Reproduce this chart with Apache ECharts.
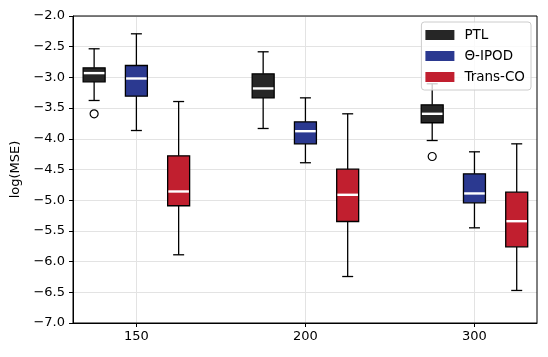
<!DOCTYPE html>
<html>
<head>
<meta charset="utf-8">
<script src="https://cdn.jsdelivr.net/npm/echarts@6/dist/echarts.min.js"></script>
<style>html,body{margin:0;padding:0;background:#fff}#c{width:548px;height:357px}</style>
</head>
<body>
<div id="c"></div>
<script>
// Group labels (x axis)
const categories = ['150', '200', '300'];
// Series names
const seriesNames = ['PTL', 'Θ-IPOD', 'Trans-CO'];
// Box stats per group: [min whisker, Q1, median, Q3, max whisker]
const ptlStats = [
  [-3.376, -3.072, -2.930, -2.844, -2.534],
  [-3.832, -3.333, -3.180, -2.942, -2.583],
  [-4.028, -3.739, -3.593, -3.446, -3.104]
];
const ipodStats = [
  [-3.865, -3.306, -3.018, -2.806, -2.290],
  [-4.390, -4.082, -3.876, -3.724, -3.333],
  [-5.450, -5.042, -4.890, -4.570, -4.212]
];
const transStats = [
  [-5.889, -5.090, -4.858, -4.277, -3.393],
  [-6.243, -5.347, -4.912, -4.495, -3.593],
  [-6.470, -5.759, -5.342, -4.870, -4.082]
];
// Outliers: [group index, value]
const ptlOutliers = [[0, -3.593], [2, -4.288]];
const ipodOutliers = [];
const transOutliers = [];
// Y tick values
const yTicks = [-7.0, -6.5, -6.0, -5.5, -5.0, -4.5, -4.0, -3.5, -3.0, -2.5, -2.0];

const colors = ['#262626', '#2b3990', '#c11f2f'];
const offsets = [-0.25, 0, 0.25];
const boxW = 0.13;
const FONT = 'DejaVu Sans';

const allStats = [ptlStats, ipodStats, transStats];
const allOut = [ptlOutliers, ipodOutliers, transOutliers];

function makeRender(k) {
  return function (params, api) {
    const x = api.value(0) + offsets[k];
    const lo = api.coord([x, api.value(1)]);
    const q1 = api.coord([x, api.value(2)]);
    const md = api.coord([x, api.value(3)]);
    const q3 = api.coord([x, api.value(4)]);
    const hi = api.coord([x, api.value(5)]);
    const w = api.size([boxW, 0])[0];
    const hw = w / 2, cw = w / 4;
    const cx = lo[0];
    const ls = { stroke: '#000', lineWidth: 1.3 };
    return {
      type: 'group',
      children: [
        { type: 'line', shape: { x1: cx, y1: lo[1], x2: cx, y2: q1[1] }, style: ls },
        { type: 'line', shape: { x1: cx, y1: q3[1], x2: cx, y2: hi[1] }, style: ls },
        { type: 'line', shape: { x1: cx - cw, y1: lo[1], x2: cx + cw, y2: lo[1] }, style: ls },
        { type: 'line', shape: { x1: cx - cw, y1: hi[1], x2: cx + cw, y2: hi[1] }, style: ls },
        { type: 'rect', shape: { x: cx - hw, y: q3[1], width: w, height: q1[1] - q3[1] },
          style: { fill: colors[k], stroke: '#000', lineWidth: 1.3 } },
        { type: 'line', shape: { x1: cx - hw + 0.7, y1: md[1], x2: cx + hw - 0.7, y2: md[1] },
          style: { stroke: '#fff', lineWidth: 2.4 } }
      ]
    };
  };
}

const series = [];
for (let k = 0; k < 3; k++) {
  series.push({
    name: seriesNames[k],
    type: 'custom',
    renderItem: makeRender(k),
    itemStyle: { color: colors[k] },
    encode: { x: 0, y: [1, 2, 3, 4, 5] },
    data: allStats[k].map((s, i) => [i].concat(s)),
    z: 2
  });
}
for (let k = 0; k < 3; k++) {
  series.push({
    name: seriesNames[k] + ' outliers',
    type: 'scatter',
    symbol: 'circle',
    symbolSize: 8,
    itemStyle: { color: '#fff', borderColor: '#000', borderWidth: 1.2, opacity: 1 },
    data: allOut[k].map(o => [o[0] + offsets[k], o[1]]),
    z: 3
  });
}

const chart = echarts.init(document.getElementById('c'), null, { renderer: 'canvas' });
chart.setOption({
  animation: false,
  backgroundColor: '#fff',
  textStyle: { fontFamily: FONT },
  grid: { left: 73, right: 11, top: 16, bottom: 34, show: true, borderColor: '#000', borderWidth: 1, backgroundColor: 'transparent', z: 5 },
  legend: {
    data: seriesNames,
    orient: 'vertical',
    right: 17,
    top: 22,
    icon: 'rect',
    itemWidth: 29,
    itemHeight: 10,
    itemGap: 7,
    padding: [6, 6, 6, 4],
    backgroundColor: 'rgba(255,255,255,0.8)',
    borderColor: '#cccccc',
    borderWidth: 1,
    borderRadius: 3,
    textStyle: { fontFamily: FONT, fontSize: 13.5, color: '#000', padding: [0, 0, 0, 5] },
    z: 10
  },
  xAxis: {
    type: 'value',
    min: -0.375,
    max: 2.37,
    axisLine: { show: true, onZero: false, lineStyle: { color: '#000', width: 1 } },
    axisTick: { show: true, inside: false, length: 4, customValues: [0, 1, 2], lineStyle: { color: '#000' } },
    axisLabel: { customValues: [0, 1, 2], formatter: v => categories[Math.round(v)], fontFamily: FONT, fontSize: 13, color: '#000', margin: 7 },
    splitLine: { show: true, lineStyle: { color: '#e3e3e3', width: 1 } }
  },
  yAxis: {
    type: 'value',
    min: yTicks[0],
    max: yTicks[yTicks.length - 1],
    interval: 0.5,
    name: 'log(MSE)',
    nameLocation: 'middle',
    nameRotate: 90,
    nameGap: 49,
    nameTextStyle: { fontFamily: FONT, fontSize: 13, color: '#000' },
    axisLine: { show: true, onZero: false, lineStyle: { color: '#000', width: 1 } },
    axisTick: { show: true, inside: false, length: 4, lineStyle: { color: '#000' } },
    axisLabel: { formatter: v => v.toFixed(1).replace('-', '\u2212'), fontFamily: FONT, fontSize: 13, color: '#000', margin: 8 },
    splitLine: { show: true, lineStyle: { color: '#e3e3e3', width: 1 } }
  },
  series: series
});
</script>
</body>
</html>
